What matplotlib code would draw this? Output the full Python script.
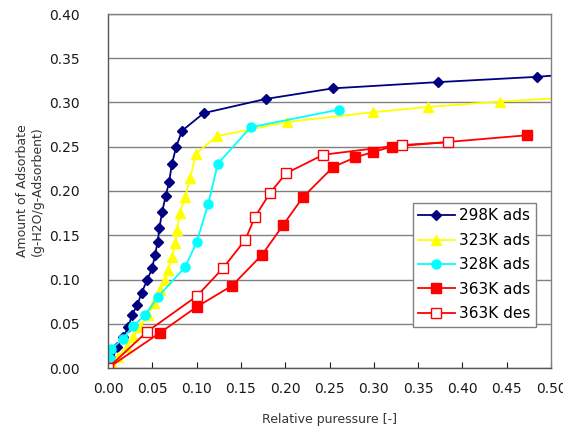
import matplotlib.pyplot as plt

# 298K ads
x298 = [0.005, 0.010, 0.017, 0.023, 0.027, 0.033, 0.038, 0.044, 0.050, 0.053, 0.056, 0.058,
        0.061, 0.065, 0.069, 0.072, 0.077, 0.0835, 0.108, 0.178, 0.254, 0.372, 0.484, 0.51]
y298 = [0.010, 0.024, 0.035, 0.046, 0.060, 0.071, 0.085, 0.099, 0.113, 0.128, 0.142, 0.158,
        0.176, 0.194, 0.210, 0.230, 0.250, 0.268, 0.288, 0.304, 0.316, 0.323, 0.329, 0.331]

# 323K ads
x323 = [0.004, 0.011, 0.021, 0.028, 0.036, 0.045, 0.052, 0.059, 0.064, 0.068, 0.072, 0.076,
        0.078, 0.081, 0.087, 0.093, 0.099, 0.123, 0.202, 0.299, 0.361, 0.442, 0.51]
y323 = [0.004, 0.012, 0.024, 0.035, 0.046, 0.060, 0.074, 0.088, 0.099, 0.111, 0.125, 0.141,
        0.156, 0.175, 0.193, 0.215, 0.242, 0.262, 0.278, 0.289, 0.295, 0.301, 0.305]

# 328K ads
x328 = [0.002, 0.003, 0.017, 0.028, 0.042, 0.056, 0.087, 0.100, 0.113, 0.124, 0.161, 0.261]
y328 = [0.010, 0.021, 0.033, 0.047, 0.060, 0.080, 0.114, 0.142, 0.185, 0.231, 0.272, 0.292]

# 363K ads
x363a = [0.0, 0.059, 0.100, 0.140, 0.174, 0.198, 0.220, 0.254, 0.279, 0.299, 0.320, 0.473]
y363a = [0.0, 0.040, 0.069, 0.093, 0.128, 0.162, 0.193, 0.227, 0.238, 0.244, 0.250, 0.263]

# 363K des
x363d = [0.0, 0.044, 0.100, 0.130, 0.155, 0.166, 0.183, 0.201, 0.243, 0.332, 0.384]
y363d = [0.0, 0.041, 0.081, 0.113, 0.145, 0.171, 0.198, 0.220, 0.241, 0.252, 0.255]

xticks = [i * 0.05 for i in range(11)]
yticks = [i * 0.05 for i in range(9)]

plt.rcParams['font.family'] = 'DejaVu Sans'

fig = plt.figure(figsize=(5.63, 4.37), dpi=100)
ax = fig.add_axes([108 / 563, 1 - 368 / 437, 443 / 563, 354 / 437])

ax.plot(x298, y298, color="#000080", marker="D", markersize=5.5, lw=1.3, label="298K ads")
ax.plot(x323, y323, color="#ffff00", marker="^", markersize=6.5, lw=1.3, label="323K ads")
ax.plot(x328, y328, color="#00ffff", marker="o", markersize=6.5, lw=1.3, label="328K ads")
ax.plot(x363a, y363a, color="#ff0000", marker="s", markersize=6.5, lw=1.3, label="363K ads")
ax.plot(x363d, y363d, color="#ff0000", marker="s", markersize=6.5, lw=1.3,
        markerfacecolor="white", label="363K des")

ax.set_xlim(0, 0.5)
ax.set_ylim(0, 0.4)
ax.set_xticks(xticks)
ax.set_yticks(yticks)
ax.set_xticklabels(["%.2f" % v for v in xticks])
ax.set_yticklabels(["%.2f" % v for v in yticks])
ax.tick_params(axis="x", direction="in", length=4, labelsize=10, colors="#1a1a1a", pad=10)
ax.tick_params(axis="y", length=0, labelsize=10, colors="#1a1a1a", pad=20)
ax.grid(axis="y", color="#808080", lw=1)
ax.set_axisbelow(True)
for s in ax.spines.values():
    s.set_color("#808080")
    s.set_linewidth(1)
ax.spines["bottom"].set_color("#555555")
ax.spines["left"].set_color("#555555")

ax.set_xlabel("Relative puressure [-]", fontsize=9, color="#333333", labelpad=12)
ax.set_ylabel("Amount of Adsorbate\n(g-H2O/g-Adsorbent)", fontsize=9, color="#333333",
              labelpad=4, linespacing=1.2)

leg = ax.legend(loc="upper right", bbox_to_anchor=(0.966, 0.466), fontsize=11,
                fancybox=False, edgecolor="#808080", framealpha=1, handlelength=2.4,
                borderpad=0.35, labelspacing=0.62, handletextpad=0.3, borderaxespad=0)
leg.get_frame().set_linewidth(1)

fig.savefig("out.png", dpi=100)
